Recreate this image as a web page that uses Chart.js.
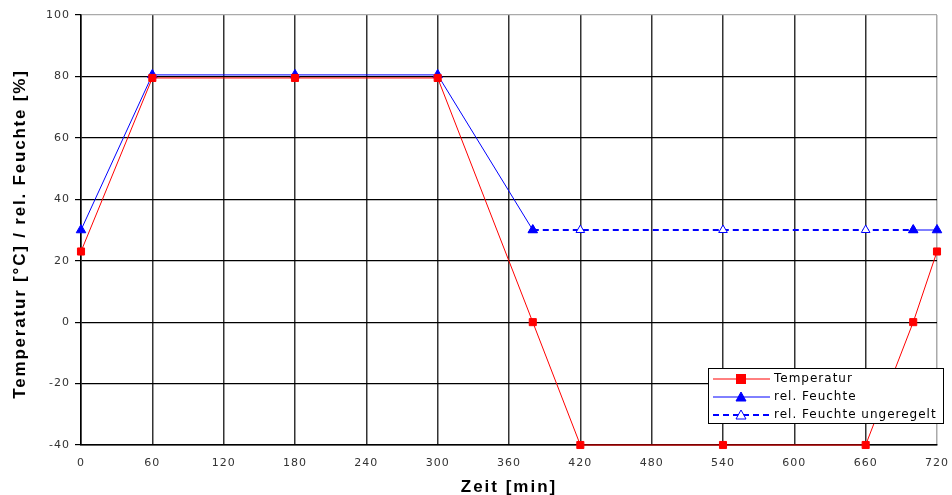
<!DOCTYPE html>
<html>
<head>
<meta charset="utf-8">
<script src="https://cdn.jsdelivr.net/npm/chart.js@4.4.0/dist/chart.umd.min.js"></script>
<style>
    html, body { margin: 0; padding: 0; background: #fff; }
    #wrap { width: 952px; height: 495px; }
</style>
</head>
<body>
<div id="wrap"><canvas id="klimaChart"></canvas></div>
<script>
// Temperatur- und Feuchteverlauf
const timeTemp = [0, 60, 180, 300, 380, 420, 540, 660, 700, 720];
const temp = [23, 79.5, 79.5, 79.5, 0, -40, -40, -40, 0, 23];

const timeHum = [0, 60, 180, 300, 380, 540, 700, 720];
const hum = [30, 80.5, 80.5, 80.5, 30, null, 30, 30];

const timeFree = [380, 420, 540, 660, 700];
const humFree = [30, 30, 30, 30, 30];

const labels = ['Temperatur', 'rel. Feuchte', 'rel. Feuchte ungeregelt'];
const xTitle = 'Zeit [min]';
const yTitle = 'Temperatur [°C] / rel. Feuchte [%]';

const RED = '#ff0000';
const BLUE = '#0000ff';

function toPoints(xs, ys) {
    return xs.map(function (x, i) { return {x: x, y: ys[i]}; });
}

// spaced-out text, like the old Excel export
const spacing = {
    id: 'spacing',
    beforeDraw: function (chart) {
        chart.ctx.letterSpacing = '1px';
    }
};

// axis titles + legend box drawn inside the plot, bottom right
const boxLegend = {
    id: 'boxLegend',
    afterDraw: function (chart) {
        const c = chart.ctx;
        const a = chart.chartArea;
        c.save();

        // axis titles
        c.fillStyle = '#000';
        c.textAlign = 'center';
        c.textBaseline = 'middle';
        c.letterSpacing = '2px';
        c.font = 'bold 17px "Liberation Sans"';
        c.fillText(xTitle, (a.left + a.right) / 2, 487);
        c.save();
        c.translate(20, (a.top + a.bottom) / 2 + 4);
        c.rotate(-Math.PI / 2);
        c.letterSpacing = '1.8px';
        c.font = 'bold 17px "Liberation Sans"';
        c.fillText(yTitle, 0, 0);
        c.restore();

        // legend
        const w = 235, h = 55;
        const x0 = a.right - w + 6, y0 = a.bottom - 77;
        c.fillStyle = '#fff';
        c.fillRect(x0, y0, w, h);
        c.strokeStyle = '#000';
        c.lineWidth = 1;
        c.strokeRect(x0 + 0.5, y0 + 0.5, w, h);
        c.font = '12px "DejaVu Sans"';
        c.letterSpacing = '1px';
        c.textAlign = 'left';
        c.textBaseline = 'middle';
        chart.data.datasets.forEach(function (ds, i) {
            const yy = y0 + 11 + i * 18;
            c.strokeStyle = ds.borderColor;
            c.lineWidth = ds.borderWidth;
            c.setLineDash(ds.borderDash || []);
            c.beginPath();
            c.moveTo(x0 + 5, yy);
            c.lineTo(x0 + 62, yy);
            c.stroke();
            c.setLineDash([]);
            c.fillStyle = ds.pointBackgroundColor;
            c.strokeStyle = ds.pointBorderColor;
            c.lineWidth = 1;
            if (ds.pointStyle === 'rect') {
                c.fillRect(x0 + 28, yy - 5, 10, 10);
            } else {
                c.beginPath();
                c.moveTo(x0 + 33, yy - 5);
                c.lineTo(x0 + 38, yy + 4);
                c.lineTo(x0 + 28, yy + 4);
                c.closePath();
                c.fill();
                c.stroke();
            }
            c.fillStyle = '#000';
            c.fillText(ds.label, x0 + 66, yy);
        });
        c.restore();
    }
};

const ctx = document.getElementById('klimaChart').getContext('2d');
const klimaChart = new Chart(ctx, {
    type: 'scatter',
    data: {
        datasets: [{
            label: labels[0],
            data: toPoints(timeTemp, temp),
            showLine: true,
            clip: false,
            borderColor: RED,
            borderWidth: 1,
            pointStyle: 'rect',
            pointRadius: 5,
            pointBackgroundColor: RED,
            pointBorderColor: RED,
            pointBorderWidth: 1
        }, {
            label: labels[1],
            data: toPoints(timeHum, hum),
            showLine: true,
            spanGaps: false,
            clip: false,
            borderColor: BLUE,
            borderWidth: 1,
            pointStyle: 'triangle',
            pointRadius: 5.5,
            pointBackgroundColor: BLUE,
            pointBorderColor: BLUE,
            pointBorderWidth: 1
        }, {
            label: labels[2],
            data: toPoints(timeFree, humFree),
            showLine: true,
            clip: false,
            borderColor: BLUE,
            borderWidth: 2,
            borderDash: [6, 4],
            pointStyle: 'triangle',
            pointRadius: 5,
            pointBackgroundColor: '#fff',
            pointBorderColor: BLUE,
            pointBorderWidth: 1
        }]
    },
    options: {
        responsive: true,
        maintainAspectRatio: false,
        animation: false,
        layout: {
            padding: {top: 15, right: 15, left: 0, bottom: 0}
        },
        plugins: {
            legend: {display: false},
            tooltip: {enabled: false}
        },
        scales: {
            x: {
                type: 'linear',
                min: 0,
                max: 720,
                ticks: {
                    stepSize: 60,
                    color: '#333',
                    font: {family: '"DejaVu Sans"', size: 11},
                    padding: 12
                },
                grid: {
                    color: function (c) { return c.tick.value === 720 ? '#aaa' : '#333'; },
                    lineWidth: 1.5,
                    drawTicks: false
                },
                border: {color: '#000', width: 1.5},
                afterFit: function (s) {
                    s.height = 50;
                    s.paddingLeft = 0;
                    s.paddingRight = 0;
                }
            },
            y: {
                min: -40,
                max: 100,
                ticks: {
                    stepSize: 20,
                    color: '#333',
                    font: {family: '"DejaVu Sans"', size: 11},
                    padding: 5
                },
                grid: {
                    color: function (c) { return c.tick.value === 100 ? '#aaa' : '#000'; },
                    tickColor: '#000',
                    tickLength: 6,
                    lineWidth: 1.2
                },
                border: {color: '#000', width: 1.5},
                afterFit: function (s) {
                    s.width = 81;
                    s.paddingTop = 0;
                    s.paddingBottom = 0;
                }
            }
        }
    },
    plugins: [spacing, boxLegend]
});
</script>
</body>
</html>
